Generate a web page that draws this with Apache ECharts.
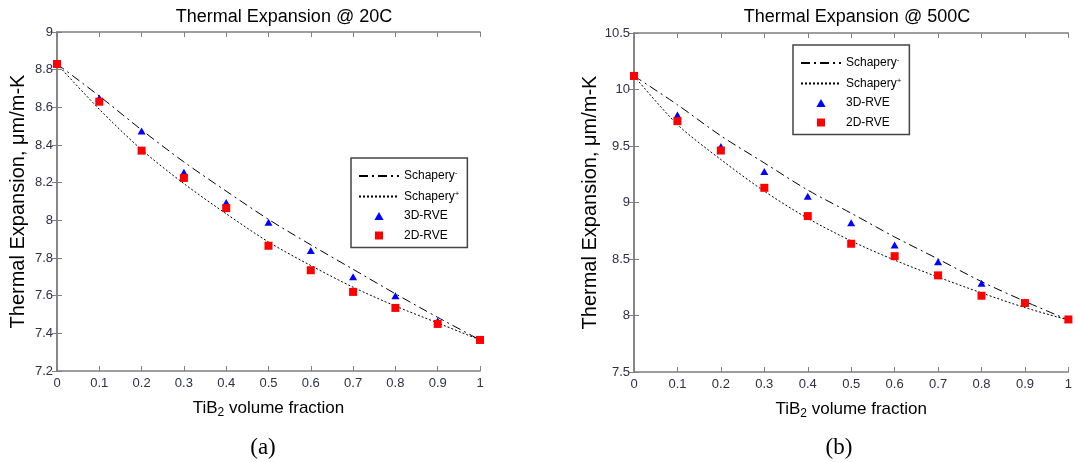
<!DOCTYPE html>
<html><head><meta charset="utf-8">
<script src="https://cdn.jsdelivr.net/npm/echarts@6/dist/echarts.min.js"></script>
<style>html,body{margin:0;padding:0;background:#fff}#c{width:1075px;height:462px}</style>
</head><body><div id="c"></div>
<script>
// Volume fraction (x)
const vf = [0, 0.1, 0.2, 0.3, 0.4, 0.5, 0.6, 0.7, 0.8, 0.9, 1];

// 20C panel (a)
const a_schaperyMinus = [8.83, 8.66, 8.48, 8.31, 8.155, 8.005, 7.87, 7.74, 7.61, 7.485, 7.365];
const a_schaperyPlus  = [8.83, 8.59, 8.375, 8.195, 8.035, 7.885, 7.76, 7.645, 7.545, 7.455, 7.365];
const a_rve3d = [8.83, 8.65, 8.475, 8.255, 8.095, 7.99, 7.84, 7.70, 7.60, 7.465, 7.365];
const a_rve2d = [8.83, 8.63, 8.37, 8.225, 8.065, 7.865, 7.735, 7.62, 7.535, 7.45, 7.365];

// 500C panel (b)
const b_schaperyMinus = [10.12, 9.865, 9.59, 9.35, 9.11, 8.905, 8.695, 8.50, 8.30, 8.125, 7.96];
const b_schaperyPlus  = [10.12, 9.69, 9.38, 9.10, 8.86, 8.66, 8.49, 8.34, 8.20, 8.07, 7.96];
const b_rve3d = [10.12, 9.775, 9.495, 9.275, 9.055, 8.82, 8.625, 8.475, 8.285, 8.12, 7.965];
const b_rve2d = [10.12, 9.72, 9.46, 9.13, 8.88, 8.635, 8.525, 8.355, 8.175, 8.11, 7.965];

const titles = ['Thermal Expansion @ 20C', 'Thermal Expansion @ 500C'];
const panelLabels = ['(a)', '(b)'];
const xName = 'TiB{sub|2} volume fraction';
const yName = 'Thermal Expansion, \u03bcm/m-K';

const pair = (ys) => vf.map((x, i) => [x, ys[i]]);

const FONT = 'Liberation Sans, Arial, sans-serif';
const axisGray = '#7f7f7f';
const labelColor = '#2e2e4a';

function xAxes(gi) {
  return [{
    type: 'value', gridIndex: gi, min: 0, max: 1, interval: 0.1, position: 'bottom',
    axisLine: {show: true, lineStyle: {color: axisGray, width: 1.5}},
    axisTick: {show: true, inside: true, length: 5, lineStyle: {color: axisGray}},
    axisLabel: {color: labelColor, fontSize: 13, fontFamily: FONT, margin: 6},
    splitLine: {show: false},
    name: xName, nameLocation: 'middle', nameGap: 26,
    nameTextStyle: {color: '#000', fontSize: 17, fontFamily: FONT,
      rich: {sub: {fontSize: 12, fontFamily: FONT, color: '#000', padding: [10, 0, 0, 0]}}}
  }, {
    type: 'value', gridIndex: gi, min: 0, max: 1, interval: 0.1, position: 'top',
    axisLine: {show: true, lineStyle: {color: axisGray, width: 1.5}},
    axisTick: {show: true, inside: true, length: 5, lineStyle: {color: axisGray}},
    axisLabel: {show: false}, splitLine: {show: false}
  }];
}
function yAxes(gi, min, max, interval, gap) {
  return [{
    type: 'value', gridIndex: gi, min: min, max: max, interval: interval, position: 'left',
    axisLine: {show: true, lineStyle: {color: axisGray, width: 1.5}},
    axisTick: {show: true, inside: true, length: 5, lineStyle: {color: axisGray}},
    axisLabel: {color: labelColor, fontSize: 13, fontFamily: FONT, margin: 4},
    splitLine: {show: false},
    name: yName, nameLocation: 'middle', nameGap: gap, nameRotate: 90,
    nameTextStyle: {color: '#000', fontSize: 20, fontFamily: FONT}
  }, {
    type: 'value', gridIndex: gi, min: min, max: max, interval: interval, position: 'right',
    axisLine: {show: true, lineStyle: {color: axisGray, width: 1.5}},
    axisTick: {show: true, inside: true, length: 5, lineStyle: {color: axisGray}},
    axisLabel: {show: false}, splitLine: {show: false}
  }];
}

function seriesFor(k, sm, sp, r3, r2) {
  const xi = k * 2, yi = k * 2;
  return [
    {name: 'Schapery-', type: 'line', xAxisIndex: xi, yAxisIndex: yi, data: pair(sm), smooth: 0.3,
     symbol: 'none', itemStyle: {color: '#000', opacity: 0},
     lineStyle: {color: '#000', width: 1, type: [9, 4, 2, 4]}, z: 2},
    {name: 'Schapery+', type: 'line', xAxisIndex: xi, yAxisIndex: yi, data: pair(sp), smooth: 0.3,
     symbol: 'none', itemStyle: {color: '#000', opacity: 0},
     lineStyle: {color: '#000', width: 1, type: [2, 2]}, z: 2},
    {name: '3D-RVE', type: 'scatter', xAxisIndex: xi, yAxisIndex: yi, data: pair(r3),
     symbol: 'triangle', symbolSize: [8, 7], itemStyle: {color: '#0000ff', opacity: 1}, z: 3},
    {name: '2D-RVE', type: 'scatter', xAxisIndex: xi, yAxisIndex: yi, data: pair(r2),
     symbol: 'rect', symbolSize: 8, itemStyle: {color: '#ff0000', opacity: 1}, z: 4}
  ];
}

const legendData = [
  {name: 'Schapery-', itemStyle: {opacity: 0}},
  {name: 'Schapery+', itemStyle: {opacity: 0}},
  {name: '3D-RVE', icon: 'path://M0,7L4,0L8,7Z', symbolKeepAspect: true},
  {name: '2D-RVE', icon: 'path://M0,0L8,0L8,8L0,8Z', symbolKeepAspect: true}
];

const legendCommon = {
  orient: 'vertical', data: legendData,
  itemWidth: 40, itemHeight: 8, itemGap: 7.5,
  backgroundColor: '#fff', borderColor: '#444', borderWidth: 1.5, borderRadius: 0,
  selectedMode: false,
  textStyle: {color: '#000', fontSize: 12, fontFamily: FONT,
    rich: {sup: {fontSize: 8, fontFamily: FONT, color: '#000', verticalAlign: 'top', padding: [0, 0, 6, 0]}}},
  formatter: function (n) {
    if (n === 'Schapery-') return 'Schapery{sup|-}';
    if (n === 'Schapery+') return 'Schapery{sup|+}';
    return n;
  }
};

const option = {
  animation: false,
  backgroundColor: '#fff',
  title: [
    {text: titles[0], left: 279, top: 3, textAlign: 'center', textStyle: {fontSize: 18, fontWeight: 'normal', color: '#000', fontFamily: FONT}},
    {text: titles[1], left: 852, top: 3, textAlign: 'center', textStyle: {fontSize: 18, fontWeight: 'normal', color: '#000', fontFamily: FONT}},
    {text: panelLabels[0], left: 258, top: 431, textAlign: 'center', textStyle: {fontSize: 23, fontWeight: 'normal', color: '#000', fontFamily: 'Liberation Serif, Times New Roman, serif'}},
    {text: panelLabels[1], left: 834, top: 431, textAlign: 'center', textStyle: {fontSize: 23, fontWeight: 'normal', color: '#000', fontFamily: 'Liberation Serif, Times New Roman, serif'}}
  ],
  grid: [
    {left: 57, top: 32, width: 423, height: 339},
    {left: 634, top: 33, width: 438, height: 339}
  ],
  legend: [
    Object.assign({}, legendCommon, {left: 351, top: 158, padding: [11, 8, 6, 7]}),
    Object.assign({}, legendCommon, {left: 793, top: 45, padding: [11, 8, 6, 7]})
  ],
  xAxis: [].concat(xAxes(0), xAxes(1)),
  yAxis: [].concat(yAxes(0, 7.2, 9, 0.2, 29), yAxes(1, 7.5, 10.5, 0.5, 33)),
  series: [].concat(
    seriesFor(0, a_schaperyMinus, a_schaperyPlus, a_rve3d, a_rve2d),
    seriesFor(1, b_schaperyMinus, b_schaperyPlus, b_rve3d, b_rve2d)
  )
};

echarts.init(document.getElementById('c'), null, {renderer: 'canvas'}).setOption(option);
</script>
</body></html>
